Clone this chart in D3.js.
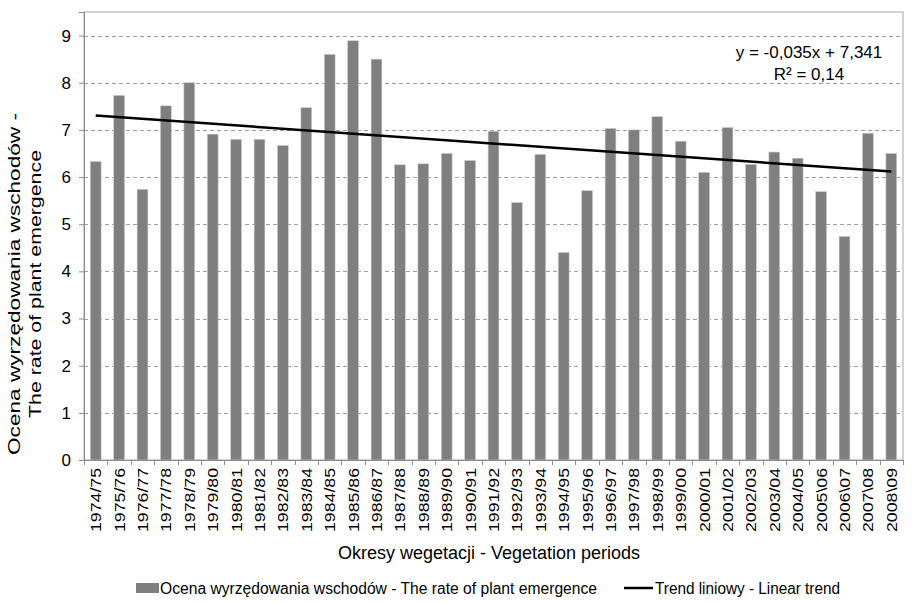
<!DOCTYPE html>
<html>
<head>
<meta charset="utf-8">
<script src="https://cdn.jsdelivr.net/npm/d3@7"></script>
<style>
  body { margin: 0; background: #fff; }
  svg { display: block; font-family: "Liberation Sans", Arial, sans-serif; }
</style>
</head>
<body>
<svg id="chart" width="912" height="603"></svg>
<script>
const categories = ["1974/75","1975/76","1976/77","1977/78","1978/79","1979/80","1980/81","1981/82","1982/83","1983/84","1984/85","1985/86","1986/87","1987/88","1988/89","1989/90","1990/91","1991/92","1992/93","1993/94","1994/95","1995/96","1996/97","1997/98","1998/99","1999/00","2000/01","2001/02","2002/03","2003/04","2004/05","2005\\06","2006\\07","2007\\08","2008\\09"];
const values = [6.33,7.73,5.74,7.51,8.00,6.91,6.80,6.80,6.67,7.47,8.60,8.89,8.50,6.26,6.28,6.50,6.35,6.97,5.46,6.48,4.40,5.71,7.03,7.00,7.28,6.76,6.10,7.05,6.27,6.53,6.40,5.69,4.74,6.93,6.50];
const yTicks = [0,1,2,3,4,5,6,7,8,9];
const trendSlope = -0.035;
const trendIntercept = 7.341;
const trendLabel = "y = -0,035x + 7,341";
const r2Label = "R² = 0,14";
const yTitle = ["Ocena wyrzędowania wschodów -", "The rate of plant emergence"];
const xTitle = "Okresy wegetacji - Vegetation periods";
const legendBars = "Ocena wyrzędowania wschodów - The rate of plant emergence";
const legendTrend = "Trend liniowy - Linear trend";

const svg = d3.select("#chart");
const L = 84, R = 903, T = 12, B = 460;

const x = d3.scaleBand().domain(categories).range([L, R]).paddingInner(0.54).paddingOuter(0.27);
const xb = d3.scaleBand().domain(categories).range([L, R]);
const y = d3.scaleLinear().domain([0, 9.5]).range([B, T]);

// plot border
svg.append("rect").attr("x", L).attr("y", T).attr("width", R - L).attr("height", B - T)
  .attr("fill", "none").attr("stroke", "#a6a6a6").attr("stroke-width", 1);

// gridlines
svg.append("g").selectAll("line").data(yTicks.filter(d => d > 0)).join("line")
  .attr("x1", L).attr("x2", R)
  .attr("y1", d => Math.round(y(d)) + 0.5).attr("y2", d => Math.round(y(d)) + 0.5)
  .attr("stroke", "#a0a0a0").attr("stroke-width", 1).attr("stroke-dasharray", "4,3");

// bars
svg.append("g").selectAll("rect").data(values).join("rect")
  .attr("x", (d, i) => x(categories[i]))
  .attr("width", x.bandwidth())
  .attr("y", d => y(d))
  .attr("height", d => B - y(d))
  .attr("fill", "#7f7f7f")
  .attr("stroke", "#c8c8c8").attr("stroke-width", 0.6);

// y axis
const yAxis = d3.axisLeft(y).tickValues(yTicks).tickSize(5).tickPadding(8).tickFormat(d3.format("d"));
const gy = svg.append("g").attr("transform", `translate(${L},0)`).call(yAxis);
gy.select(".domain").attr("stroke", "#8c8c8c");
gy.selectAll(".tick line").attr("stroke", "#8c8c8c");
gy.selectAll(".tick text").attr("font-size", 17).attr("fill", "#000")
  .attr("font-family", "'Liberation Sans', Arial, sans-serif");

// x axis
const gx = svg.append("g").attr("transform", `translate(0,${B})`)
  .call(d3.axisBottom(xb).tickSize(0).tickPadding(0));
gx.select(".domain").attr("stroke", "#8c8c8c");
gx.selectAll(".tick text").remove();
gx.selectAll(".bt").data(categories.concat(["__end"])).join("line")
  .attr("class", "bt")
  .attr("x1", (d, i) => Math.round(L + i * xb.step()) + 0.5)
  .attr("x2", (d, i) => Math.round(L + i * xb.step()) + 0.5)
  .attr("y1", 0).attr("y2", 5).attr("stroke", "#8c8c8c");

// x labels rotated
svg.append("g").selectAll("text").data(categories).join("text")
  .attr("transform", d => `translate(${xb(d) + xb.bandwidth() / 2},${B + 8}) rotate(-90)`)
  .attr("text-anchor", "end").attr("dy", "0.36em")
  .attr("font-size", 15.5).attr("fill", "#000")
  .attr("textLength", 64).attr("lengthAdjust", "spacingAndGlyphs")
  .text(d => d);

// trend line
const tx = [1, categories.length];
svg.append("line")
  .attr("x1", xb(categories[0]) + xb.bandwidth() / 2)
  .attr("y1", y(trendIntercept + trendSlope * tx[0]))
  .attr("x2", xb(categories[categories.length - 1]) + xb.bandwidth() / 2)
  .attr("y2", y(trendIntercept + trendSlope * tx[1]))
  .attr("stroke", "#000").attr("stroke-width", 2.5);

// trend equation
svg.append("text").attr("x", 809).attr("y", 58).attr("text-anchor", "middle")
  .attr("font-size", 17).text(trendLabel);
svg.append("text").attr("x", 809).attr("y", 80).attr("text-anchor", "middle")
  .attr("font-size", 17).text(r2Label);

// y title
const yt = svg.append("text").attr("transform", "translate(0,284) rotate(-90)")
  .attr("text-anchor", "middle").attr("font-size", 17);
yt.append("tspan").attr("x", 0).attr("y", 20)
  .attr("textLength", 342).attr("lengthAdjust", "spacingAndGlyphs").text(yTitle[0]);
yt.append("tspan").attr("x", 0).attr("y", 41)
  .attr("textLength", 268).attr("lengthAdjust", "spacingAndGlyphs").text(yTitle[1]);

// x title
svg.append("text").attr("x", 489).attr("y", 559).attr("text-anchor", "middle")
  .attr("font-size", 18).text(xTitle);

// legend
svg.append("rect").attr("x", 136).attr("y", 583).attr("width", 23).attr("height", 10).attr("fill", "#7f7f7f");
svg.append("text").attr("x", 160).attr("y", 594).attr("font-size", 16)
  .attr("textLength", 437).attr("lengthAdjust", "spacingAndGlyphs").text(legendBars);
svg.append("line").attr("x1", 624).attr("x2", 653).attr("y1", 588).attr("y2", 588)
  .attr("stroke", "#000").attr("stroke-width", 2.5);
svg.append("text").attr("x", 655).attr("y", 594).attr("font-size", 16)
  .attr("textLength", 185).attr("lengthAdjust", "spacingAndGlyphs").text(legendTrend);
</script>
</body>
</html>
